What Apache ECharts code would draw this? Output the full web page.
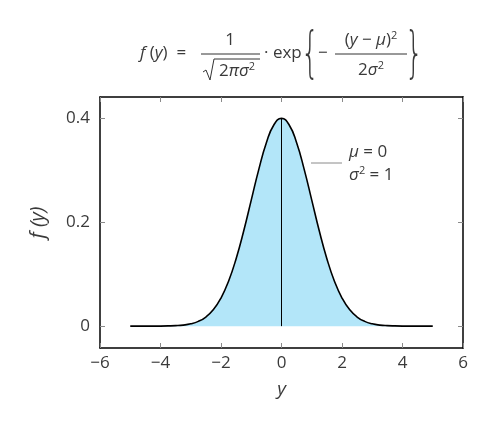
<!DOCTYPE html>
<html><head><meta charset="utf-8">
<script src="https://cdn.jsdelivr.net/npm/echarts@6/dist/echarts.min.js"></script>
<style>html,body{margin:0;padding:0;background:#fff}#c{width:498px;height:426px}</style>
</head><body><div id="c"></div>
<script>
// Data
var yValues = [-5,-4.75,-4.5,-4.25,-4,-3.75,-3.5,-3.25,-3,-2.75,-2.5,-2.25,-2,-1.75,-1.5,-1.25,-1,-0.75,-0.5,-0.25,0,0.25,0.5,0.75,1,1.25,1.5,1.75,2,2.25,2.5,2.75,3,3.25,3.5,3.75,4,4.25,4.5,4.75,5];
var density = [0,0,0,0,0.0001,0.0004,0.0009,0.0020,0.0044,0.0091,0.0175,0.0317,0.0540,0.0863,0.1295,0.1826,0.2420,0.3011,0.3521,0.3867,0.3989,0.3867,0.3521,0.3011,0.2420,0.1826,0.1295,0.0863,0.0540,0.0317,0.0175,0.0091,0.0044,0.0020,0.0009,0.0004,0.0001,0,0,0,0];
var meanLineX = [0, 0];
var meanLineY = [0, 0.3989];
var xTicks = [-6,-4,-2,0,2,4,6];
var yTicks = [0, 0.2, 0.4];

var curve = yValues.map(function(v,i){return [v, density[i]];});
var meanLine = meanLineX.map(function(v,i){return [v, meanLineY[i]];});

var FONT = 'Open Sans';
var TXT = '#3a3a3a';
var chart = echarts.init(document.getElementById('c'), null, {renderer:'canvas'});
function fmt(v){ var s = (Math.abs(v)<1e-9)?'0':String(Math.round(v*10)/10); return s.replace('-', '\u2212'); }
var tickStyle = {show:true, inside:true, length:5, lineStyle:{color:'#8a8a8a', width:1}};
var it = {fontFamily:FONT, fontStyle:'italic', fontSize:17, color:TXT};
var up = {fontFamily:FONT, fontSize:17, color:TXT};
var sup = {fontFamily:FONT, fontSize:11, color:TXT, padding:[0,0,9,0]};
function T(x,y,text,align){
  return {type:'text', x:x, y:y, style:{text:text, rich:{i:it, u:up, s:sup}, font:'17px '+FONT, fill:TXT, align:align||'left', verticalAlign:'middle'}};
}
function brace(x, ch){
  return {type:'text', x:x, y:57, scaleX:0.75, scaleY:1.45, style:{text:ch, font:'200 38px "DejaVu Sans"', fill:TXT, align:'center', verticalAlign:'middle'}};
}

var option = {
  animation:false,
  backgroundColor:'#fff',
  grid:{left:100, right:35, top:97, bottom:78, containLabel:false},
  xAxis:[{
    type:'value', min:-6, max:6, interval:2, position:'bottom',
    axisLine:{show:true, onZero:false, lineStyle:{color:'#000', width:1.5}},
    axisTick:tickStyle, splitLine:{show:false},
    axisLabel:{formatter:fmt, fontFamily:FONT, fontSize:17, color:TXT, margin:7},
    name:'y', nameLocation:'middle', nameGap:32,
    nameTextStyle:{fontFamily:FONT, fontStyle:'italic', fontSize:19, color:TXT}
  },{
    type:'value', min:-6, max:6, interval:2, position:'top',
    axisLine:{show:true, onZero:false, lineStyle:{color:'#000', width:1.5}},
    axisTick:tickStyle, axisLabel:{show:false}, splitLine:{show:false}
  }],
  yAxis:[{
    type:'value', min:-0.042, max:0.44, position:'left',
    axisLine:{show:true, onZero:false, lineStyle:{color:'#000', width:1.5}},
    axisTick:Object.assign({customValues:yTicks}, tickStyle),
    axisLabel:{customValues:yTicks, formatter:fmt, fontFamily:FONT, fontSize:17, color:TXT, margin:10},
    splitLine:{show:false},
    name:'f (y)', nameLocation:'middle', nameGap:52, nameRotate:90,
    nameTextStyle:{fontFamily:FONT, fontStyle:'italic', fontSize:20, color:TXT}
  },{
    type:'value', min:-0.042, max:0.44, position:'right',
    axisLine:{show:true, onZero:false, lineStyle:{color:'#000', width:1.5}},
    axisTick:Object.assign({customValues:yTicks}, tickStyle),
    axisLabel:{show:false}, splitLine:{show:false}
  }],
  series:[{
    type:'line', data:curve, smooth:true, showSymbol:false, symbol:'none',
    lineStyle:{color:'#000', width:1.6},
    areaStyle:{color:'#b3e6f9', opacity:1, origin:0}, z:2
  },{
    type:'line', data:meanLine, showSymbol:false, symbol:'none',
    lineStyle:{color:'#000', width:1}, z:3
  }],
  graphic:[
    // legend annotation
    {type:'line', shape:{x1:311, y1:163, x2:342, y2:163}, style:{stroke:'#8a8a8a', lineWidth:1}},
    T(349, 152, '{i|\u03bc} {u|= 0}'),
    T(349, 175, '{i|\u03c3}{s|2} {u|= 1}'),
    // title formula
    T(140, 53, '{i|f }{u|(}{i|y}{u|)  = }'),
    T(230, 40, '{u|1}', 'center'),
    {type:'line', shape:{x1:201, y1:54, x2:260, y2:54}, style:{stroke:'#333', lineWidth:1}},
    {type:'polyline', shape:{points:[[203,72],[206,70],[210,80],[214,59],[260,59]]}, style:{stroke:'#333', lineWidth:1, fill:null}},
    T(237, 71, '{u|2}{i|\u03c0\u03c3}{s|2}', 'center'),
    T(264, 53, '{u|\u00b7 exp}'),
    brace(310, '{'),
    T(318, 53, '{u|\u2212}'),
    T(371, 40, '{u|(}{i|y}{u| \u2212 }{i|\u03bc}{u|)}{s|2}', 'center'),
    {type:'line', shape:{x1:335, y1:54, x2:407, y2:54}, style:{stroke:'#333', lineWidth:1}},
    T(371, 70, '{u|2}{i|\u03c3}{s|2}', 'center'),
    brace(414, '}')
  ]
};
chart.setOption(option);
</script></body></html>
